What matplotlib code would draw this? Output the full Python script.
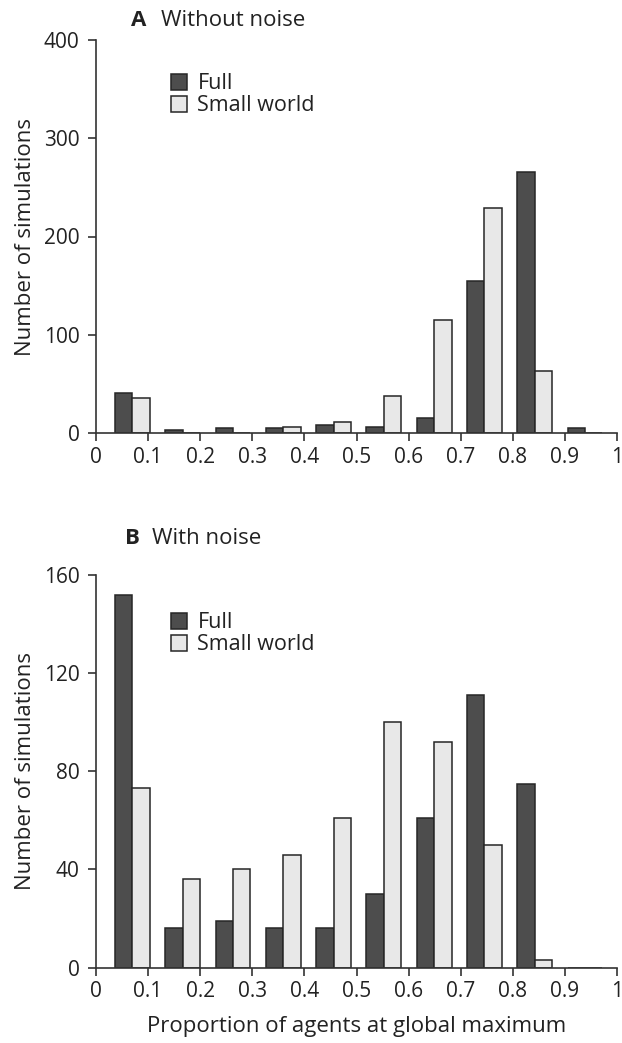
import numpy as np
import matplotlib.pyplot as plt

plt.rcParams['font.family'] = ['Open Sans', 'DejaVu Sans']
plt.rcParams['font.size'] = 15

# values, bins 0-0.1 ... 0.9-1
bins = np.arange(10)
a_full = [41, 3, 5, 5, 8, 6, 15, 155, 266, 5]
a_small = [36, 0, 0, 6, 11, 38, 115, 229, 63, 0]
b_full = [152, 16, 19, 16, 16, 30, 61, 111, 75, 0]
b_small = [73, 36, 40, 46, 61, 100, 92, 50, 3, 0]
xticks = [0, 0.1, 0.2, 0.3, 0.4, 0.5, 0.6, 0.7, 0.8, 0.9, 1]
xlabels = ['0', '0.1', '0.2', '0.3', '0.4', '0.5', '0.6', '0.7', '0.8', '0.9', '1']

dark = '#4d4d4d'
light = '#e8e8e8'
edge = '#262626'
txt = '#222222'

W, H = 622, 1043
fig = plt.figure(figsize=(W / 100, H / 100), dpi=100)


def make_axes(top, bottom):
    return fig.add_axes([96 / W, 1 - bottom / H, 521 / W, (bottom - top) / H])


def draw(ax, full, small, ymax, ystep, leg_y):
    centers = 0.07 + bins * 0.0965
    w = 0.0335
    ax.bar(centers - w, full, width=w, align='edge', color=dark,
           edgecolor=edge, linewidth=1.1, label='Full', zorder=3)
    ax.bar(centers, small, width=w, align='edge', color=light,
           edgecolor=edge, linewidth=1.1, label='Small world', zorder=3)
    ax.set_xlim(0, 1)
    ax.set_ylim(0, ymax)
    ax.set_xticks(xticks)
    ax.set_xticklabels(xlabels)
    ax.set_yticks(np.arange(0, ymax + 1, ystep))
    for s in ['top', 'right']:
        ax.spines[s].set_visible(False)
    for s in ['left', 'bottom']:
        ax.spines[s].set_color('#333333')
        ax.spines[s].set_linewidth(1.2)
    ax.spines['bottom'].set_zorder(4)
    ax.tick_params(direction='out', length=5.8, width=1.2, color='#333333',
                   labelcolor=txt, labelsize=15)
    ax.tick_params(axis='x', pad=4)
    ax.tick_params(axis='y', pad=6)
    ax.set_ylabel('Number of simulations', fontsize=16, color=txt,
                  labelpad=6)
    ax.legend(loc='upper left', bbox_to_anchor=(0.143, leg_y), frameon=False,
              handlelength=0.75, handleheight=0.75, handletextpad=0.5,
              borderpad=0, borderaxespad=0, labelspacing=0.05,
              fontsize=15.5, labelcolor=txt)


ax1 = make_axes(40, 433)
draw(ax1, a_full, a_small, 400, 100, 0.915)
ax2 = make_axes(575, 967.5)
draw(ax2, b_full, b_small, 160, 40, 0.905)
ax2.set_xlabel('Proportion of agents at global maximum', fontsize=16,
               color=txt, labelpad=10)

fig.text(131 / W, 1 - 20 / H, 'A', fontsize=16, weight='bold',
         va='center', color=txt)
fig.text(161 / W, 1 - 20 / H, 'Without noise', fontsize=16,
         va='center', color=txt)
fig.text(125 / W, 1 - 539 / H, 'B', fontsize=16, weight='bold',
         va='center', color=txt)
fig.text(152 / W, 1 - 539 / H, 'With noise', fontsize=16,
         va='center', color=txt)

fig.savefig('out.png', dpi=100)
